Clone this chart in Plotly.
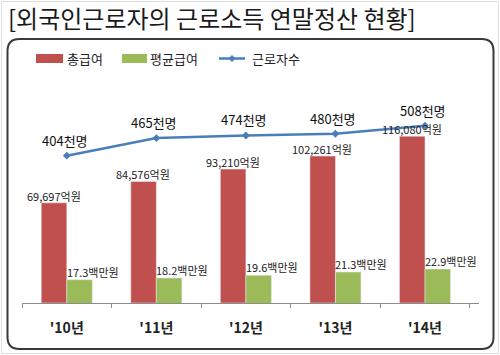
import plotly.graph_objects as go

# ---- data ----
years = ["'10년", "'11년", "'12년", "'13년", "'14년"]
total_pay = [69697, 84576, 93210, 102261, 116080]      # 억원
avg_pay = [17.3, 18.2, 19.6, 21.3, 22.9]               # 백만원
workers = [404, 465, 474, 480, 508]                    # 천명

title_text = "[외국인근로자의 근로소득 연말정산 현황]"
legend_names = ["총급여", "평균급여", "근로자수"]

RED = "#C0504D"
GREEN = "#9BBB59"
BLUE = "#4A7EBB"
FONT = "Noto Sans CJK KR"

W, H = 500, 355
ML, MR, MT, MB = 22, 21, 75, 52
PW = W - ML - MR
PH = H - MT - MB
BW = 0.285


def px(x):
    return (x - ML) / PW


def py(y):
    return (H - MB - y) / PH


fig = go.Figure()

fig.add_trace(go.Bar(
    x=years, y=total_pay, name=legend_names[0], marker_color=RED,
    width=BW, offset=-BW, yaxis="y", showlegend=False,
))
fig.add_trace(go.Bar(
    x=years, y=avg_pay, name=legend_names[1], marker_color=GREEN,
    width=BW, offset=0.0, yaxis="y2", showlegend=False,
))
fig.add_trace(go.Scatter(
    x=years, y=workers, name=legend_names[2], yaxis="y3",
    mode="lines+markers",
    line=dict(color=BLUE, width=2.5),
    marker=dict(symbol="diamond", size=6, color=BLUE),
    cliponaxis=False, showlegend=False,
))

annotations = []
bar_px = BW * PW / len(years)
for cat, v in zip(years, total_pay):
    annotations.append(dict(text=f"{v:,}억원", xref="x", yref="y", x=cat, y=v,
                            xanchor="center", yanchor="bottom",
                            xshift=-bar_px / 2, yshift=-3, showarrow=False,
                            font=dict(size=11, color="#222", family=FONT)))
for cat, v in zip(years, avg_pay):
    annotations.append(dict(text=f"{v}백만원", xref="x", yref="y2", x=cat, y=v,
                            xanchor="left", yanchor="bottom",
                            xshift=-2, yshift=-2, showarrow=False,
                            font=dict(size=11, color="#222", family=FONT)))
for cat, v in zip(years, workers):
    annotations.append(dict(text=f"{v}천명", xref="x", yref="y3", x=cat, y=v,
                            xanchor="center", yanchor="bottom",
                            xshift=-2, yshift=4, showarrow=False,
                            font=dict(size=13, color="#111", family=FONT)))

shapes = []
# rounded border box
L, R, T, B, r = 7.5, 493.5, 39, 349, 12
pts = (
    f"M {px(L + r)},{py(T)} L {px(R - r)},{py(T)} "
    f"Q {px(R)},{py(T)} {px(R)},{py(T + r)} "
    f"L {px(R)},{py(B - r)} Q {px(R)},{py(B)} {px(R - r)},{py(B)} "
    f"L {px(L + r)},{py(B)} Q {px(L)},{py(B)} {px(L)},{py(B - r)} "
    f"L {px(L)},{py(T + r)} Q {px(L)},{py(T)} {px(L + r)},{py(T)} Z"
)
shapes.append(dict(type="path", xref="paper", yref="paper", path=pts,
                   line=dict(color="#3a3a3a", width=2)))
# faint outer frame
shapes.append(dict(type="rect", xref="paper", yref="paper",
                   x0=px(1.5), x1=px(498.5), y0=py(1.5), y1=py(353.5),
                   line=dict(color="#dedede", width=1)))
# legend swatches
LY = 58.5
shapes.append(dict(type="rect", xref="paper", yref="paper",
                   x0=px(36), x1=px(63), y0=py(LY + 4.5), y1=py(LY - 4.5),
                   fillcolor=RED, line=dict(width=0)))
shapes.append(dict(type="rect", xref="paper", yref="paper",
                   x0=px(122), x1=px(147), y0=py(LY + 4.5), y1=py(LY - 4.5),
                   fillcolor=GREEN, line=dict(width=0)))
shapes.append(dict(type="line", xref="paper", yref="paper",
                   x0=px(219), x1=px(245), y0=py(LY), y1=py(LY),
                   line=dict(color=BLUE, width=2.5)))
d = 3.5
shapes.append(dict(type="path", xref="paper", yref="paper",
                   path=f"M {px(232)},{py(LY - d)} L {px(232 + d)},{py(LY)} "
                        f"L {px(232)},{py(LY + d)} L {px(232 - d)},{py(LY)} Z",
                   fillcolor=BLUE, line=dict(width=0)))

for name, xl in zip(legend_names, [65, 148, 250]):
    annotations.append(dict(text=name, xref="paper", yref="paper",
                            x=px(xl), y=py(LY), xanchor="left", yanchor="middle",
                            showarrow=False,
                            font=dict(size=13, color="#222", family=FONT)))

fig.update_layout(
    width=W, height=H,
    margin=dict(l=ML, r=MR, t=MT, b=MB),
    paper_bgcolor="white", plot_bgcolor="white",
    title=dict(text=title_text, xref="container", yref="container",
               x=8 / W, xanchor="left", y=1 - 20 / H, yanchor="middle",
               font=dict(size=24, color="#1a1a1a", family=FONT)),
    xaxis=dict(type="category", showline=True, linecolor="#8c8c8c", linewidth=1,
               ticks="outside", tickson="boundaries", ticklen=4, tickcolor="#8c8c8c",
               showgrid=False, ticklabelstandoff=12,
               tickfont=dict(size=14, color="#222", family=FONT, weight="bold")),
    yaxis=dict(range=[0, 158700], visible=False),
    yaxis2=dict(range=[5.1, 124.5], overlaying="y", visible=False),
    yaxis3=dict(range=[-107.6, 684], overlaying="y", visible=False),
    shapes=shapes, annotations=annotations,
    showlegend=False,
    font=dict(family=FONT),
)

fig.write_html("out.html", config={"displayModeBar": False},
               post_script="document.body.style.margin='0';document.body.style.overflow='hidden';")
